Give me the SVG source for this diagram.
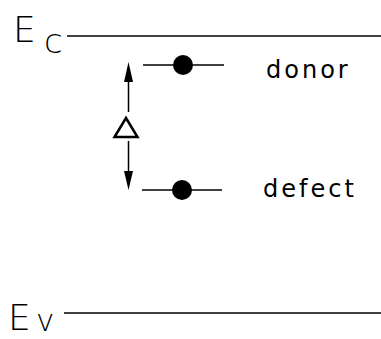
<svg xmlns="http://www.w3.org/2000/svg" width="381" height="339" viewBox="0 0 381 339">
<style>
.lvl{stroke:#000;stroke-width:1.6;fill:none}
.sh{stroke:#000;stroke-width:1.5;fill:none}
.big{font-family:"DejaVu Sans","Liberation Sans",sans-serif;font-size:36px;fill:#000;font-weight:300}
.sub{font-family:"DejaVu Sans","Liberation Sans",sans-serif;font-size:34px;fill:#000;font-weight:300}
.lab{font-family:"DejaVu Sans","Liberation Sans",sans-serif;font-size:24px;fill:#000;letter-spacing:3px}
</style>
<rect width="381" height="339" fill="#fff"/>
<g id="Ec">
<text class="big" x="13" y="42">E</text>
<text class="sub" x="44" y="53">c</text>
<line class="lvl" x1="67" y1="36" x2="381" y2="36"/>
</g>
<g id="Ev">
<text class="big" x="8" y="330">E</text>
<text class="sub" x="36" y="331" style="font-size:31px">v</text>
<line class="lvl" x1="64" y1="313" x2="381" y2="313"/>
</g>
<g id="donor">
<line class="lvl" x1="143" y1="65" x2="224" y2="65"/>
<circle cx="183" cy="65" r="10" fill="#000"/>
<text class="lab" x="266" y="78">donor</text>
</g>
<g id="defect">
<line class="lvl" x1="142" y1="190" x2="222" y2="190"/>
<circle cx="182" cy="190" r="10" fill="#000"/>
<text class="lab" x="263" y="197">defect</text>
</g>
<g id="connectors">
<line class="sh" x1="128.5" y1="80" x2="128.5" y2="112"/>
<polygon points="128.5,62 124,82 133,82" fill="#000"/>
<line class="sh" x1="128.5" y1="141" x2="128.5" y2="174"/>
<polygon points="128.5,190 124,171 133,171" fill="#000"/>
</g>
<g id="delta">
<polygon points="126,118 114.5,137 137.5,137" fill="none" stroke="#000" stroke-width="2.5" stroke-linejoin="miter"/>
</g>
</svg>
